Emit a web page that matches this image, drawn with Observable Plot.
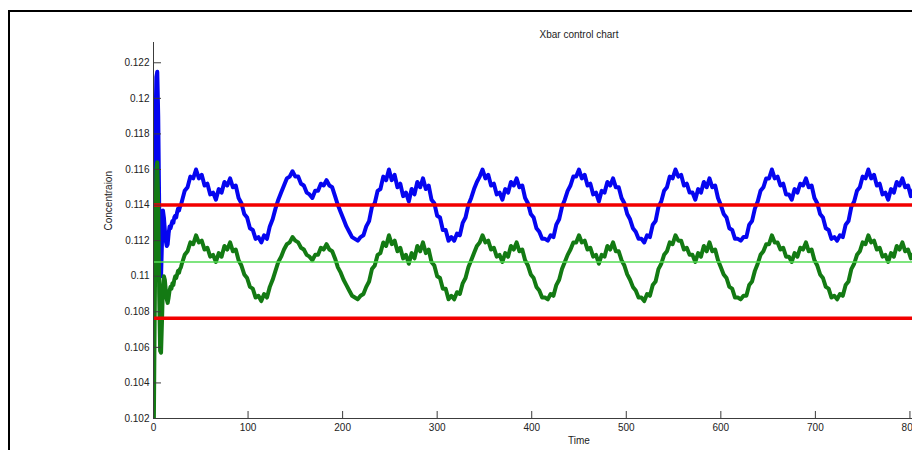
<!DOCTYPE html>
<html><head><meta charset="utf-8">
<script src="https://cdn.jsdelivr.net/npm/d3@7"></script>
<script src="https://cdn.jsdelivr.net/npm/@observablehq/plot@0.6"></script>
<style>
html,body{margin:0;padding:0;background:#fff;overflow:hidden;width:912px;height:450px;}
#frame{position:absolute;left:8px;top:10px;width:1100px;height:600px;border-left:2px solid #000;border-top:2px solid #000;}
#chart{position:absolute;left:0;top:0;width:1010px;}
#chart svg{max-width:none !important;width:1010px;height:450px;}
</style></head><body><div id="frame"></div><div id="chart"></div>
<script>
const title = "Xbar control chart";
const xLabel = "Time";
const yLabel = "Concentraion";
const xTicks = [0, 100, 200, 300, 400, 500, 600, 700, 800, 900];
const yTicks = [0.102, 0.104, 0.106, 0.108, 0.11, 0.112, 0.114, 0.116, 0.118, 0.12, 0.122];
const yTickLabels = ["0.102","0.104","0.106","0.108","0.11","0.112","0.114","0.116","0.118","0.12","0.122"];
const UCL = 0.1140, CL = 0.1108, LCL = 0.10763;
// t = 0..29, step 1
const blueEarly = [0.1100,0.1130,0.1180,0.1212,0.1215,0.1190,0.1140,0.1105,0.1100,0.1120,
  0.1137,0.1133,0.1126,0.1120,0.1117,0.1118,0.1124,0.1128,0.1127,0.1129,
  0.1131,0.1130,0.1133,0.1134,0.1133,0.1136,0.1138,0.1137,0.1139,0.1140];
const greenEarly = [0.0990,0.1060,0.1120,0.1160,0.1164,0.1140,0.1090,0.1058,0.1057,0.1075,
  0.1095,0.1100,0.1098,0.1092,0.1087,0.1085,0.1088,0.1092,0.1094,0.1093,
  0.1096,0.1095,0.1098,0.1100,0.1099,0.1101,0.1103,0.1102,0.1104,0.1105];
// t = 30, 33, 36, ... step 3
const blueMain = [
  0.1142,0.1148,0.1150,0.1156,0.1155,0.1160,0.1155,0.1157,0.1151,0.1152,0.1146,0.1147,0.1143,0.1149,0.1147,0.1153,0.1151,0.1155,0.1150,0.1151,0.1144,0.1141,0.1135,0.1133,0.1127,0.1126,0.1121,0.1122,
  0.1119,0.1123,0.1121,0.1128,0.1132,0.1138,0.1143,0.1147,0.1151,0.1155,0.1156,0.1159,0.1156,0.1156,0.1152,0.1151,0.1147,0.1146,0.1144,0.1148,0.1148,0.1152,0.1151,0.1154,0.1151,0.1150,0.1145,0.1140,0.1136,0.1132,0.1128,0.1125,0.1122,0.1121,
  0.1120,0.1122,0.1123,0.1128,0.1131,0.1139,0.1141,0.1148,0.1149,0.1156,0.1154,0.1160,0.1154,0.1157,0.1150,0.1152,0.1145,0.1147,0.1142,0.1149,0.1146,0.1153,0.1150,0.1155,0.1149,0.1151,0.1143,0.1141,0.1134,0.1133,0.1126,0.1126,0.1120,0.1122,
  0.1120,0.1124,0.1123,0.1130,0.1133,0.1140,0.1144,0.1149,0.1153,0.1156,0.1160,0.1155,0.1157,0.1151,0.1152,0.1146,0.1147,0.1143,0.1149,0.1147,0.1153,0.1151,0.1155,0.1150,0.1151,0.1144,0.1141,0.1135,0.1133,0.1127,0.1125,0.1121,0.1121,
  0.1120,0.1123,0.1122,0.1129,0.1132,0.1139,0.1143,0.1148,0.1151,0.1156,0.1156,0.1160,0.1155,0.1157,0.1151,0.1152,0.1146,0.1147,0.1142,0.1148,0.1147,0.1153,0.1151,0.1155,0.1150,0.1150,0.1144,0.1141,0.1135,0.1132,0.1127,0.1125,0.1121,0.1121,
  0.1119,0.1123,0.1122,0.1129,0.1131,0.1139,0.1142,0.1148,0.1150,0.1156,0.1155,0.1160,0.1156,0.1157,0.1151,0.1152,0.1147,0.1147,0.1143,0.1149,0.1147,0.1153,0.1150,0.1155,0.1150,0.1151,0.1144,0.1140,0.1135,0.1133,0.1127,0.1126,0.1121,0.1121,
  0.1120,0.1122,0.1122,0.1129,0.1131,0.1138,0.1142,0.1148,0.1150,0.1155,0.1155,0.1160,0.1155,0.1156,0.1151,0.1152,0.1146,0.1146,0.1143,0.1149,0.1147,0.1152,0.1151,0.1155,0.1150,0.1151,0.1144,0.1141,0.1135,0.1133,0.1127,0.1126,0.1121,0.1122,
  0.1120,0.1123,0.1122,0.1129,0.1131,0.1139,0.1142,0.1148,0.1150,0.1156,0.1155,0.1160,0.1155,0.1157,0.1151,0.1152,0.1146,0.1147,0.1143,0.1149,0.1147,0.1153,0.1151,0.1155,0.1150,0.1151,0.1145,0.1149,0.1146];
const greenMain = [
  0.1107,0.1112,0.1114,0.1119,0.1118,0.1123,0.1119,0.1120,0.1115,0.1116,0.1111,0.1112,0.1108,0.1113,0.1111,0.1117,0.1115,0.1119,0.1114,0.1115,0.1109,0.1106,0.1101,0.1099,0.1094,0.1093,0.1088,0.1089,
  0.1086,0.1090,0.1088,0.1094,0.1098,0.1103,0.1108,0.1111,0.1115,0.1118,0.1119,0.1122,0.1120,0.1119,0.1116,0.1115,0.1112,0.1111,0.1109,0.1112,0.1112,0.1116,0.1115,0.1118,0.1115,0.1114,0.1110,0.1105,0.1102,0.1098,0.1095,0.1092,0.1089,0.1088,
  0.1087,0.1089,0.1090,0.1094,0.1097,0.1104,0.1106,0.1112,0.1113,0.1119,0.1117,0.1123,0.1118,0.1120,0.1114,0.1116,0.1110,0.1112,0.1107,0.1113,0.1110,0.1117,0.1114,0.1119,0.1113,0.1115,0.1108,0.1106,0.1100,0.1099,0.1093,0.1093,0.1087,0.1089,
  0.1087,0.1091,0.1090,0.1096,0.1099,0.1105,0.1109,0.1113,0.1117,0.1119,0.1123,0.1119,0.1120,0.1115,0.1116,0.1111,0.1112,0.1108,0.1113,0.1111,0.1117,0.1115,0.1119,0.1114,0.1115,0.1109,0.1106,0.1101,0.1099,0.1094,0.1092,0.1088,0.1088,
  0.1087,0.1090,0.1089,0.1095,0.1098,0.1104,0.1108,0.1112,0.1115,0.1119,0.1119,0.1123,0.1119,0.1120,0.1115,0.1116,0.1111,0.1112,0.1107,0.1112,0.1111,0.1117,0.1115,0.1119,0.1114,0.1114,0.1109,0.1106,0.1101,0.1098,0.1094,0.1092,0.1088,0.1088,
  0.1086,0.1090,0.1089,0.1095,0.1097,0.1104,0.1107,0.1112,0.1114,0.1119,0.1118,0.1123,0.1120,0.1120,0.1115,0.1116,0.1112,0.1112,0.1108,0.1113,0.1111,0.1117,0.1114,0.1119,0.1114,0.1115,0.1109,0.1105,0.1101,0.1099,0.1094,0.1093,0.1088,0.1088,
  0.1087,0.1089,0.1089,0.1095,0.1097,0.1103,0.1107,0.1112,0.1114,0.1118,0.1118,0.1123,0.1119,0.1119,0.1115,0.1116,0.1111,0.1111,0.1108,0.1113,0.1111,0.1116,0.1115,0.1119,0.1114,0.1115,0.1109,0.1106,0.1101,0.1099,0.1094,0.1093,0.1088,0.1089,
  0.1087,0.1090,0.1089,0.1095,0.1097,0.1104,0.1107,0.1112,0.1114,0.1119,0.1118,0.1123,0.1119,0.1120,0.1115,0.1116,0.1111,0.1112,0.1108,0.1113,0.1111,0.1117,0.1115,0.1119,0.1114,0.1115,0.1110,0.1113,0.1111];

function series(early, main) {
  const rows = early.map((v, i) => ({t: i, v}));
  main.forEach((v, i) => rows.push({t: early.length + 3 * i, v}));
  return rows;
}
const blue = series(blueEarly, blueMain);
const green = series(greenEarly, greenMain);
const labelMap = new Map(yTicks.map((d, i) => [d, yTickLabels[i]]));
const axisColor = "#3c3c3c";
const font = "'Liberation Sans', Arial, sans-serif";

const chart = Plot.plot({
  width: 1010, height: 450,
  marginLeft: 153, marginRight: 6, marginTop: 42, marginBottom: 32,
  style: {background: "transparent", fontFamily: font, fontSize: "10px", color: "#222", maxWidth: "none"},
  x: {domain: [0, 900]},
  y: {domain: [0.102, 0.12314]},
  marks: [
    Plot.line(blue, {x: "t", y: "v", stroke: "#0505f0", strokeWidth: 4, clip: true}),
    Plot.line(green, {x: "t", y: "v", stroke: "#137a13", strokeWidth: 4, clip: true}),
    Plot.ruleY([UCL, LCL], {stroke: "#f20000", strokeWidth: 3.5}),
    Plot.ruleY([CL], {stroke: "#55dd55", strokeWidth: 1.6}),
    Plot.ruleX([0], {stroke: axisColor, strokeWidth: 1}),
    Plot.ruleY([0.102], {stroke: axisColor, strokeWidth: 1}),
    Plot.axisY(yTicks, {tickSize: 0, tickPadding: 4, tickFormat: d => labelMap.get(d), label: null}),
    Plot.axisY(yTicks, {tickSize: 8, dx: 8, tickFormat: () => "", label: null, stroke: axisColor}),
    Plot.axisX(xTicks, {tickSize: 0, tickPadding: 5, tickFormat: d => String(d), label: null}),
    Plot.axisX(xTicks, {tickSize: 7, dy: -7, tickFormat: () => "", label: null, stroke: axisColor}),
    Plot.text([title], {text: d => d, frameAnchor: "top", dy: -12, fill: "#222", fontSize: 10}),
    Plot.text([yLabel], {text: d => d, frameAnchor: "left", dx: -45, rotate: -90, fill: "#222", fontSize: 10}),
    Plot.text([xLabel], {text: d => d, frameAnchor: "bottom", dy: 25, fill: "#222", fontSize: 10})
  ]
});
document.getElementById("chart").appendChild(chart);
</script>
</body></html>
